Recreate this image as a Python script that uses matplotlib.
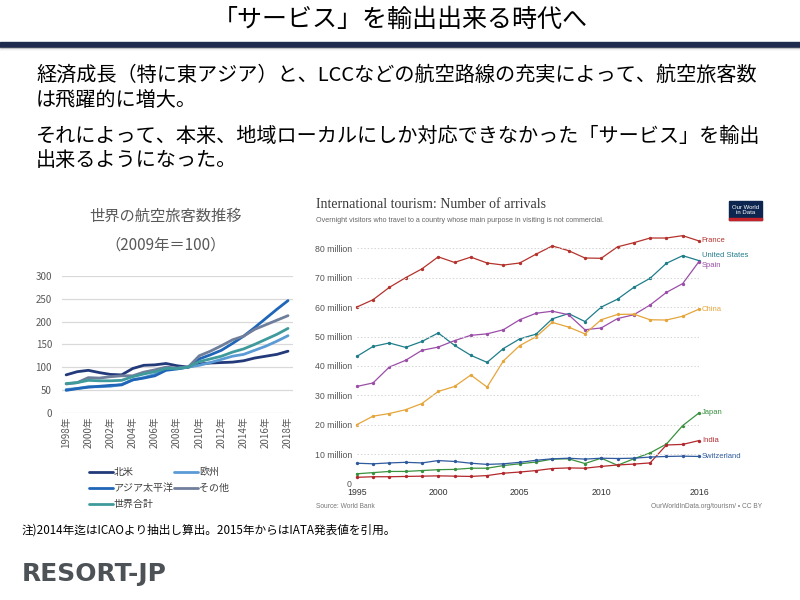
import matplotlib.pyplot as plt
from matplotlib.patches import Rectangle

plt.rcParams['font.family'] = ['Noto Sans CJK JP', 'DejaVu Sans']

W, H = 800, 600


def fx(x):
    return x / W


def fy(y):
    return 1 - y / H


# ---- left chart: world air passengers (2009 = 100)
years_air = list(range(1998, 2019))
north_america = [83, 90, 93, 88, 84, 83, 97, 104, 105, 108, 103, 100, 107, 109, 110, 111, 114, 120, 124, 128, 135]
europe = [51, 53, 57, 57, 58, 62, 72, 77, 84, 95, 97, 100, 104, 110, 117, 124, 128, 137, 146, 157, 169]
asia_pacific = [49, 53, 56, 58, 60, 61, 72, 76, 81, 93, 96, 100, 118, 127, 137, 152, 168, 187, 207, 227, 246]
others = [63, 66, 77, 76, 79, 81, 81, 89, 94, 100, 98, 100, 125, 135, 147, 160, 168, 183, 193, 203, 213]
world_total = [64, 66, 71, 70, 70, 71, 79, 85, 90, 97, 97, 100, 112, 118, 124, 133, 140, 150, 161, 172, 185]
air_names = ['北米', '欧州', 'アジア太平洋', 'その他', '世界合計']
air_colors = ['#22397a', '#5b9bd5', '#1f66b8', '#6f7e9b', '#3f9a9c']

# ---- right chart: international tourism arrivals (million)
years_tour = list(range(1995, 2017))
france = [60, 62.5, 66.7, 70, 73, 77.1, 75.2, 77, 75, 74.3, 75, 78, 80.8, 79.2, 76.7, 76.6, 80.5, 81.9, 83.5, 83.5, 84.3, 82.5]
united_states = [43.2, 46.6, 47.8, 46.3, 48.3, 51.2, 47, 43.6, 41.2, 45.9, 49.2, 50.8, 56, 57.8, 55.1, 60, 62.7, 66.7, 69.8, 74.9, 77.5, 75.8]
spain = [33, 34.2, 39.6, 41.9, 45.3, 46.4, 48.6, 50.4, 50.9, 52.3, 55.7, 57.9, 58.6, 57.4, 52.3, 52.9, 56.1, 57.4, 60.7, 65, 68, 75.5]
china = [20, 22.9, 23.8, 25.1, 27.2, 31.3, 33, 36.9, 32.8, 41.7, 46.9, 49.9, 54.8, 53.2, 50.9, 55.7, 57.5, 57.6, 55.7, 55.6, 56.9, 59.3]
japan = [3.3, 3.7, 4.1, 4.1, 4.4, 4.7, 4.8, 5.2, 5.2, 6.1, 6.7, 7.3, 8.3, 8.4, 6.8, 8.6, 6.2, 8.4, 10.4, 13.4, 19.7, 24.0]
india = [2.1, 2.3, 2.3, 2.4, 2.5, 2.6, 2.5, 2.4, 2.7, 3.5, 3.9, 4.4, 5.1, 5.3, 5.2, 5.8, 6.3, 6.6, 7.0, 13.1, 13.3, 14.6]
switzerland = [6.9, 6.7, 7.0, 7.2, 7.0, 7.8, 7.5, 6.9, 6.5, 6.7, 7.2, 7.9, 8.4, 8.6, 8.3, 8.6, 8.5, 8.6, 9.0, 9.2, 9.3, 9.2]
tour_names = ['France', 'United States', 'Spain', 'China', 'Japan', 'India', 'Switzerland']
tour_colors = ['#b5332d', '#1f7d8a', '#9b4ea8', '#e5a53a', '#3a923f', '#b3282d', '#2f5a9e']
label_nudge = {'United States': 4, 'Spain': -3}

fig = plt.figure(figsize=(8, 6), dpi=100)

# header
fig.text(fx(400), fy(20), '「サービス」を輸出出来る時代へ', ha='center', va='center', fontsize=18)
fig.patches.append(Rectangle((0, fy(47)), 1, 5 / H, transform=fig.transFigure, color='#1f2a4f'))
for i, a in enumerate([0.35, 0.22, 0.12, 0.05]):
    fig.patches.append(Rectangle((0, fy(48 + i)), 1, 1 / H, transform=fig.transFigure,
                                 color='#7f7f7f', alpha=a, lw=0))

body = ['経済成長（特に東アジア）と、LCCなどの航空路線の充実によって、航空旅客数',
        'は飛躍的に増大。',
        'それによって、本来、地域ローカルにしか対応できなかった「サービス」を輸出',
        '出来るようになった。']
for txt, y in zip(body, [75, 101, 136, 161]):
    fig.text(fx(36), fy(y), txt, ha='left', va='center', fontsize=14.5)

# left chart
ax1 = fig.add_axes([fx(61.7), fy(412.7), (293 - 61.7) / W, (412.7 - 276) / H])
series_air = [north_america, europe, asia_pacific, others, world_total]
lines = []
for vals, name, c in zip(series_air, air_names, air_colors):
    ln, = ax1.plot(years_air, vals, color=c, lw=2, label=name, solid_capstyle='round')
    lines.append(ln)
ax1.set_ylim(0, 300)
ax1.set_xlim(1997.6, 2018.45)
ax1.set_yticks(range(0, 301, 50))
ax1.set_xticks(years_air[::2])
ax1.set_xticklabels([f'{y}年' for y in years_air[::2]], rotation=90)
ax1.grid(axis='y', color='#d9d9d9', lw=0.9)
ax1.set_axisbelow(True)
for s in ax1.spines.values():
    s.set_visible(False)
ax1.tick_params(length=0, labelsize=7, labelcolor='#595959')
ax1.tick_params(axis='y', pad=7)
ax1.tick_params(axis='x', pad=3)
order = [0, 2, 4, 1, 3]
ax1.legend([lines[i] for i in order], [air_names[i] for i in order], ncol=2,
           loc='upper left', bbox_to_anchor=(fx(80), fy(458)), bbox_transform=fig.transFigure,
           frameon=False, fontsize=7.2, handlelength=2.4, handletextpad=0.1,
           columnspacing=0.0, labelspacing=0.6, labelcolor='#404040')

fig.text(fx(166), fy(216), '世界の航空旅客数推移', ha='center', va='center', fontsize=11, color='#595959')
fig.text(fx(166), fy(245), '（2009年＝100）', ha='center', va='center', fontsize=11, color='#595959')

# right chart
sans = 'Liberation Sans'
ax2 = fig.add_axes([fx(356.7), fy(483.5), (699 - 356.7) / W, 85 * 2.94 / H])
series_tour = [france, united_states, spain, china, japan, india, switzerland]
for vals, name, c in zip(series_tour, tour_names, tour_colors):
    ax2.plot(years_tour, vals, color=c, lw=0.9, marker='o', ms=1.4, clip_on=False)
    ax2.annotate(name, (years_tour[-1], vals[-1]), xytext=(2, label_nudge.get(name, 0)),
                 textcoords='offset points', color=c, fontsize=5.5, va='center', family=sans)
ax2.set_xlim(1995, 2016)
ax2.set_ylim(0, 85)
ax2.hlines(range(10, 81, 10), 1995, 2016, colors='#d5d5d5', lw=0.7, linestyles=(0, (1.5, 2)))
ax2.axhline(0, color='#c8c8c8', lw=0.8)
ax2.set_yticks(range(0, 81, 10))
ax2.set_yticklabels(['0'] + [f'{v} million' for v in range(10, 81, 10)], family=sans)
ax2.set_xticks([1995, 2000, 2005, 2010, 2016])
ax2.set_xticklabels(['1995', '2000', '2005', '2010', '2016'], family=sans)
for s in ax2.spines.values():
    s.set_visible(False)
ax2.tick_params(length=0, labelsize=6.3, labelcolor='#555555')
ax2.tick_params(axis='y', pad=3.5)
ax2.tick_params(axis='x', pad=3, labelcolor='#333333')

fig.text(fx(316), fy(205), 'International tourism: Number of arrivals', family='Liberation Serif',
         fontsize=10, color='#3a3a3a', va='center')
fig.text(fx(316), fy(220.5), 'Overnight visitors who travel to a country whose main purpose in visiting is not commercial.',
         family=sans, fontsize=5.1, color='#666666', va='center')
fig.text(fx(316), fy(507), 'Source: World Bank', family=sans, fontsize=4.8, color='#777777', va='center')
fig.text(fx(762), fy(507), 'OurWorldInData.org/tourism/ • CC BY', family=sans, fontsize=4.8,
         color='#777777', va='center', ha='right')
fig.patches.append(Rectangle((fx(729), fy(220)), 33 / W, 19 / H, transform=fig.transFigure, color='#0d2650'))
fig.patches.append(Rectangle((fx(729), fy(220)), 33 / W, 2 / H, transform=fig.transFigure, color='#c4232b'))
fig.text(fx(745.5), fy(210), 'Our World\nin Data', family=sans, fontsize=4.3, color='white',
         ha='center', va='center', linespacing=1.0)

# footnote and logo
fig.text(fx(22), fy(530), '注)2014年迄はICAOより抽出し算出。2015年からはIATA発表値を引用。',
         fontsize=8.4, va='center')
fig.text(fx(22), fy(574), 'RESORT-JP', fontsize=18, fontweight='heavy', color='#4d5257',
         va='center', family='DejaVu Sans')

fig.savefig('out.png', dpi=100)
